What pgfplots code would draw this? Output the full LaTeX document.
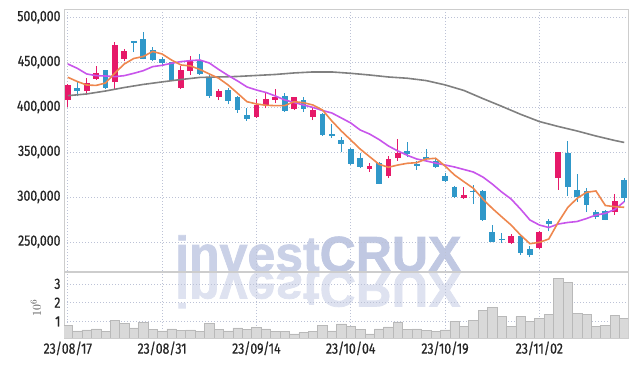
\documentclass[border=0pt]{standalone}
\usepackage{fontspec}
\usepackage{pgfplots}
\pgfplotsset{compat=1.18}
\newfontfamily\tickfont{Fira Sans}[FakeStretch=0.82, FakeBold=0.6]
\newfontfamily\wmfont{Liberation Sans}[BoldFeatures={FakeBold=1.5}]
\definecolor{upc}{RGB}{230,25,105}
\definecolor{dnc}{RGB}{48,152,201}
\definecolor{maS}{RGB}{238,135,78}
\definecolor{maM}{RGB}{200,85,235}
\definecolor{maL}{RGB}{128,128,128}
\definecolor{gridc}{RGB}{188,194,214}
\definecolor{framec}{RGB}{205,205,205}
\definecolor{wmA}{RGB}{202,209,231}
\definecolor{wmB}{RGB}{192,200,226}
\definecolor{wmR}{RGB}{222,226,240}
\definecolor{volf}{RGB}{217,217,217}
\definecolor{vold}{RGB}{185,185,185}
\newcommand{\candle}[6]{%
\addplot[#6, line width=1pt, forget plot] coordinates {(#1,#4)(#1,#3)};
\addplot[#6, line width=5.8pt, line cap=butt, forget plot] coordinates {(#1,#2)(#1,#5)};}
\newcommand{\up}[5]{\candle{#1}{#2}{#3}{#4}{#5}{upc}}
\newcommand{\dn}[5]{\candle{#1}{#2}{#3}{#4}{#5}{dnc}}
\pgfplotsset{
  chartbase/.style={
    scale only axis, width=564pt,
    xmin=-0.4, xmax=59.4,
    xtick={0,10,20,30,40,50},
    grid=major,
    major grid style={gridc, dash pattern=on 1pt off 2pt, line width=0.6pt},
    axis line style={framec, line width=0.8pt},
    major tick length=0pt,
    tick label style={font=\tickfont\fontsize{15}{15}\selectfont, text=black!85},
    /pgf/number format/assume math mode=true,
  }
}
\begin{document}
\begin{tikzpicture}
\useasboundingbox (0pt,0pt) rectangle (637pt,366pt);
% watermark
\node[font=\wmfont\bfseries\fontsize{50}{50}\selectfont, anchor=base west, inner sep=0pt, text=wmA] at (175pt,94.5pt) {invest\textcolor{wmB}{CRUX}};
\begin{scope}
\clip (64pt,28pt) rectangle (628pt,94pt);
\node[font=\wmfont\bfseries\fontsize{50}{50}\selectfont, anchor=base west, inner sep=0pt, text=wmR, yscale=-1] at (175pt,94pt) {investCRUX};
\end{scope}
% price panel
\begin{axis}[chartbase, at={(64pt,95pt)}, anchor=south west, height=262pt,
  ymin=217.5, ymax=509.2,
  xticklabels={},
  ytick={250,300,350,400,450,500},
  yticklabels={{250,000},{300,000},{350,000},{400,000},{450,000},{500,000}},
]
\up{0}{408.1}{425.5}{399.7}{424.8}
\dn{1}{421.1}{428.6}{411.9}{417.4}
\up{2}{417.4}{432.2}{413.0}{426.7}
\up{3}{431.4}{445.9}{430.3}{437.8}
\dn{4}{440.8}{441.1}{420.0}{421.1}
\up{5}{427.4}{473.0}{419.2}{468.6}
\up{6}{453.7}{464.8}{450.8}{461.9}
\dn{7}{473.7}{474.0}{461.1}{471.1}
\dn{8}{475.6}{484.1}{453.0}{453.7}
\dn{9}{463.0}{467.4}{450.8}{452.6}
\dn{10}{453.3}{456.3}{447.0}{448.9}
\dn{11}{449.7}{450.5}{429.5}{430.3}
\up{12}{421.1}{445.6}{420.5}{441.4}
\up{13}{440.3}{457.4}{435.9}{451.9}
\dn{14}{451.9}{458.9}{436.1}{437.0}
\dn{15}{431.9}{435.2}{410.3}{412.6}
\up{16}{411.4}{420.0}{407.8}{417.8}
\dn{17}{418.9}{420.8}{403.0}{407.0}
\dn{18}{410.8}{412.6}{393.7}{396.7}
\dn{19}{391.1}{398.7}{384.8}{386.7}
\up{20}{389.2}{408.9}{388.1}{402.2}
\up{21}{402.2}{417.0}{398.6}{408.9}
\up{22}{407.8}{419.7}{404.1}{411.1}
\dn{23}{412.2}{415.2}{394.8}{395.9}
\up{24}{397.8}{411.6}{396.7}{410.8}
\dn{25}{407.8}{411.4}{394.8}{397.4}
\up{26}{389.2}{398.7}{385.6}{396.7}
\dn{27}{392.2}{393.3}{367.8}{368.9}
\dn{28}{370.0}{380.8}{365.9}{367.8}
\dn{29}{363.3}{366.3}{349.7}{358.9}
\dn{30}{353.3}{354.8}{335.6}{336.3}
\dn{31}{343.7}{348.6}{332.6}{333.7}
\up{32}{330.8}{338.1}{328.1}{334.4}
\dn{33}{337.4}{339.2}{314.1}{314.4}
\up{34}{323.7}{345.6}{320.8}{342.2}
\up{35}{343.0}{364.1}{340.0}{348.6}
\dn{36}{351.1}{360.8}{344.1}{348.1}
\dn{37}{336.7}{340.0}{330.0}{334.8}
\dn{38}{344.1}{353.3}{341.1}{342.2}
\dn{39}{340.0}{341.9}{331.9}{333.7}
\dn{40}{323.3}{326.3}{316.3}{318.1}
\dn{41}{311.4}{312.6}{298.6}{300.3}
\up{42}{299.2}{310.8}{297.8}{302.2}
\dn{43}{306.7}{313.3}{291.9}{305.6}
\dn{44}{306.7}{307.8}{273.3}{274.4}
\dn{45}{260.8}{268.9}{249.5}{250.3}
\dn{46}{253.3}{260.3}{248.5}{252.2}
\up{47}{248.6}{259.2}{247.8}{256.7}
\dn{48}{256.7}{257.4}{235.6}{237.4}
\dn{49}{241.9}{244.8}{232.6}{234.8}
\up{50}{243.0}{261.5}{241.9}{260.8}
\dn{51}{273.3}{275.2}{261.5}{269.7}
\up{52}{320.8}{350.3}{307.8}{350.3}
\dn{53}{348.6}{362.2}{301.1}{311.4}
\dn{54}{307.8}{325.2}{294.8}{300.3}
\dn{55}{306.7}{309.7}{283.0}{291.1}
\dn{56}{283.0}{285.6}{275.6}{278.1}
\dn{57}{284.4}{285.6}{274.1}{274.4}
\up{58}{283.0}{303.0}{280.0}{295.9}
\dn{59}{318.9}{320.8}{294.8}{298.6}
% long MA
\addplot[maL, line width=1.6pt] coordinates {
(0,412.7)(2,414.6)(4,417.9)(6,421.8)(8,425.2)(10,428.0)(12,430.7)(14,433.0)(16,433.5)(18,434.1)
(20,435.2)(22,436.3)(24,438.0)(26,439.1)(28,439.1)(30,437.6)(32,435.7)(34,433.5)(36,432.1)(38,429.5)
(40,424.7)(42,418.5)(44,409.5)(46,400.9)(48,392.0)(50,383.9)(52,378.4)(54,373.4)(56,367.8)(58,362.8)(59,360.6)};
% mid MA
\addplot[maM, line width=1.6pt] coordinates {
(0,448.0)(1,443.2)(2,436.9)(3,435.0)(4,434.6)(5,433.9)(6,435.0)(7,437.6)(8,440.5)(9,445.0)
(10,446.5)(11,448.8)(12,450.6)(13,451.7)(14,452.4)(15,449.1)(16,441.9)(17,435.2)(18,429.1)(19,422.4)
(20,419.0)(21,416.3)(22,412.4)(23,407.9)(24,405.1)(25,402.3)(26,399.6)(27,396.2)(28,393.4)(29,387.9)
(30,382.3)(31,374.5)(32,370.0)(33,363.9)(34,356.7)(35,351.1)(36,346.3)(37,342.2)(38,340.0)(39,337.7)
(40,335.5)(41,333.3)(42,330.5)(43,327.7)(44,322.2)(45,314.4)(46,305.5)(47,297.7)(48,286.5)(49,274.3)
(50,268.7)(51,265.9)(52,269.8)(53,271.5)(54,272.6)(55,275.9)(56,279.8)(57,281.7)(58,286.0)(59,294.7)};
% short MA
\addplot[maS, line width=1.6pt] coordinates {
(0,433.2)(1,428.5)(2,424.6)(3,424.1)(4,426.8)(5,438.0)(6,448.0)(7,454.1)(8,456.3)(9,461.9)
(10,459.1)(11,452.4)(12,446.9)(13,445.8)(14,441.9)(15,436.9)(16,432.1)(17,424.6)(18,415.4)(19,406.0)
(20,403.5)(21,402.0)(22,401.6)(23,401.6)(24,406.0)(25,404.9)(26,402.3)(27,396.8)(28,384.5)(29,373.4)
(30,363.4)(31,353.3)(32,344.8)(33,336.3)(34,333.0)(35,335.5)(36,337.4)(37,338.1)(38,342.2)(39,343.0)
(40,334.4)(41,324.4)(42,316.9)(43,309.6)(44,297.7)(45,287.3)(46,277.9)(47,268.7)(48,257.6)(49,247.9)
(50,249.4)(51,253.1)(52,271.7)(53,288.0)(54,298.4)(55,305.1)(56,306.6)(57,290.4)(58,289.1)(59,288.4)};
\end{axis}
% volume panel
\begin{axis}[chartbase, at={(64pt,28pt)}, anchor=south west, height=66pt,
  ymin=0.12, ymax=3.63,
  ytick={1,2,3},
  xticklabels={23/08/17,23/08/31,23/09/14,23/10/04,23/10/19,23/11/02},
  ylabel={$10^{6}$},
  ylabel style={at={(axis description cs:-0.05,0.45)}, anchor=center, text=black!70, font=\fontsize{13}{13}\selectfont},
]
\addplot[ybar, bar width=1, fill=volf, draw=vold, line width=0.5pt] coordinates {
(0,0.78)(1,0.50)(2,0.55)(3,0.61)(4,0.46)(5,1.04)(6,0.89)(7,0.66)(8,0.95)(9,0.57)
(10,0.50)(11,0.61)(12,0.51)(13,0.55)(14,0.46)(15,0.89)(16,0.57)(17,0.50)(18,0.66)(19,0.57)
(20,0.68)(21,0.61)(22,0.46)(23,0.46)(24,0.34)(25,0.41)(26,0.46)(27,0.78)(28,0.50)(29,0.87)
(30,0.73)(31,0.57)(32,0.34)(33,0.61)(34,0.71)(35,0.98)(36,0.57)(37,0.61)(38,0.51)(39,0.46)
(40,0.55)(41,1.00)(42,0.73)(43,1.04)(44,1.59)(45,1.74)(46,1.25)(47,0.73)(48,1.25)(49,1.00)
(50,1.15)(51,1.38)(52,3.31)(53,3.09)(54,1.43)(55,1.36)(56,0.73)(57,0.78)(58,1.32)(59,1.16)};
\end{axis}
\end{tikzpicture}
\end{document}
